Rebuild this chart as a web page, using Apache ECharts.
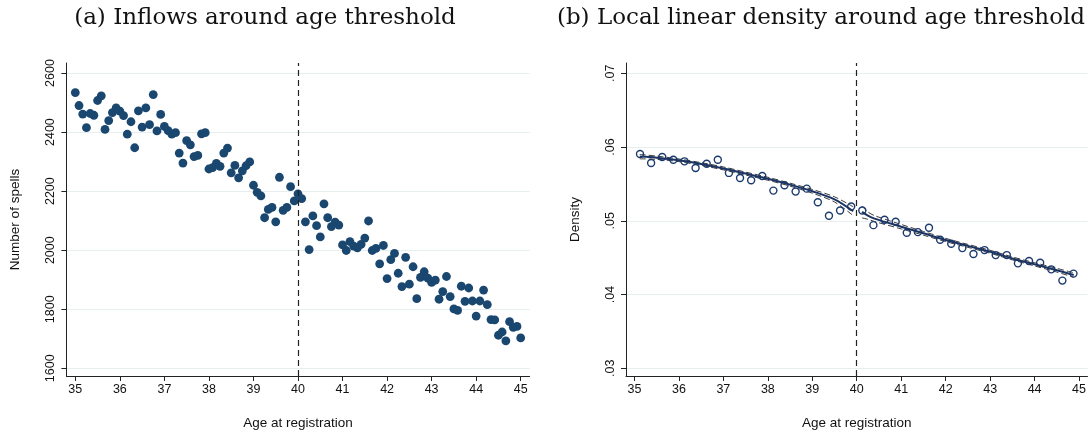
<!DOCTYPE html>
<html>
<head>
<meta charset="utf-8">
<title>Inflows and density around age threshold</title>
<script src="https://cdn.jsdelivr.net/npm/echarts@6/dist/echarts.min.js"></script>
<style>
  html, body { margin: 0; padding: 0; background: #ffffff; }
  #chart { width: 1089px; height: 435px; }
</style>
</head>
<body>
<div id="chart"></div>
<script>
// ---- Panel (a): monthly inflow counts, ages 35 to 45 ----
const inflowStartAge = 35;       // first monthly bin
const inflowBinWidth = 1 / 12;   // one month
const inflowSpells = [
  2534, 2490, 2461, 2415, 2463, 2457, 2507, 2523, 2409, 2439, 2466, 2482,
  2471, 2456, 2393, 2435, 2347, 2472, 2417, 2482, 2425, 2527, 2404, 2460,
  2419, 2405, 2393, 2398, 2329, 2295, 2371, 2357, 2317, 2321, 2394, 2398,
  2275, 2280, 2294, 2284, 2329, 2346, 2262, 2287, 2245, 2269, 2286, 2299,
  2220, 2196, 2184, 2110, 2138, 2145, 2096, 2247, 2135, 2145, 2215, 2167,
  2191, 2175, 2096, 2002, 2116, 2083, 2045, 2157, 2110, 2080, 2095, 2085,
  2018, 1999, 2029, 2014, 2008, 2020, 2041, 2099, 1999, 2006, 1954, 2016,
  1904, 1968, 1989, 1922, 1877, 1976, 1885, 1944, 1836, 1908, 1927, 1905,
  1891, 1899, 1834, 1860, 1911, 1843, 1801, 1796, 1878, 1827, 1872, 1828,
  1777, 1828, 1865, 1816, 1765, 1764, 1712, 1723, 1693, 1758, 1739, 1742,
  1703
];
const spellTicks = [1600, 1800, 2000, 2200, 2400, 2600];

// ---- Panel (b): binned density, quarter-year bins ----
const densityStartAge = 35.125;  // centre of first bin
const densityBinWidth = 0.25;
const densityValues = [
  0.05905, 0.05784, 0.05865, 0.05828, 0.05806, 0.05716, 0.05774, 0.05828,
  0.05649, 0.05581, 0.05549, 0.05608, 0.05409, 0.05481, 0.05396, 0.05436,
  0.05251, 0.05068, 0.05139, 0.05193,
  0.05139, 0.04941, 0.05014, 0.04986, 0.04838, 0.04846, 0.04905, 0.04743,
  0.04689, 0.04630, 0.04549, 0.04603, 0.04535, 0.04535, 0.04423, 0.04454,
  0.04432, 0.04342, 0.04189, 0.04284
];
const densityTicks = [0.03, 0.04, 0.05, 0.06, 0.07];
const densityTickLabels = ['.03', '.04', '.05', '.06', '.07'];

// local linear fit below the threshold, with its confidence band half-width
const fitLeftAge  = [35.12, 35.5, 36, 36.5, 37, 37.5, 38, 38.5, 39, 39.5, 39.92];
const fitLeftVal  = [0.0587, 0.05855, 0.0582, 0.0577, 0.0571, 0.0564, 0.0557, 0.0549, 0.0540, 0.0529, 0.0513];
const fitLeftHalf = [0.0003, 0.00022, 0.00018, 0.00018, 0.0002, 0.0002, 0.0002, 0.0002, 0.00025, 0.00035, 0.0006];

// local linear fit above the threshold
const fitRightAge  = [40.12, 40.25, 40.4, 41, 41.5, 42, 42.5, 43, 43.5, 44, 44.5, 44.88];
const fitRightVal  = [0.0512, 0.0507, 0.0503, 0.0492, 0.0483, 0.0474, 0.0466, 0.0458, 0.0449, 0.0441, 0.0433, 0.04265];
const fitRightHalf = [0.0008, 0.0005, 0.0004, 0.0003, 0.00025, 0.00022, 0.0002, 0.0002, 0.0002, 0.00022, 0.00025, 0.0003];

const ageTicks = [35, 36, 37, 38, 39, 40, 41, 42, 43, 44, 45];
const thresholdAge = 40;

// ---- styling ----
const NAVY = '#1a476f';
const RING = '#1a3a6e';
const FIT = '#1a3363';
const BAND = '#3a3a3a';
const GRIDLINE = '#e6eef0';
const AXIS = '#222222';
const SANS = '"Liberation Sans", Arial, sans-serif';
const SERIF = '"DejaVu Serif", serif';

const inflowPoints = inflowSpells.map((v, i) => [inflowStartAge + i * inflowBinWidth, v]);
const densityPoints = densityValues.map((v, i) => [densityStartAge + i * densityBinWidth, v]);
const pairs = (xs, ys) => xs.map((x, i) => [x, ys[i]]);
const shifted = (xs, ys, hs, s) => xs.map((x, i) => [x, ys[i] + s * hs[i]]);

function xAxisFor(gridIndex, min, max) {
  return {
    type: 'value', gridIndex, min, max,
    name: 'Age at registration', nameLocation: 'middle', nameGap: 40,
    nameTextStyle: { fontFamily: SANS, fontSize: 13.5, color: '#111' },
    axisLine: { show: true, onZero: false, lineStyle: { color: AXIS, width: 1 } },
    axisTick: { show: true, length: 5, customValues: ageTicks, lineStyle: { color: AXIS } },
    axisLabel: { customValues: ageTicks, fontFamily: SANS, fontSize: 12.5, color: '#111', margin: 7 },
    splitLine: { show: false }
  };
}

function yAxisFor(gridIndex, min, max, name, ticks, fmt, nameGap) {
  return {
    type: 'value', gridIndex, min, max,
    name, nameLocation: 'middle', nameRotate: 90, nameGap,
    nameTextStyle: { fontFamily: SANS, fontSize: 13.5, color: '#111' },
    axisLine: { show: true, onZero: false, lineStyle: { color: AXIS, width: 1 } },
    axisTick: { show: true, length: 5, customValues: ticks, lineStyle: { color: AXIS } },
    axisLabel: {
      customValues: ticks, rotate: 90, fontFamily: SANS, fontSize: 12.5, color: '#111',
      margin: 9, formatter: fmt
    },
    splitLine: { show: true, lineStyle: { color: GRIDLINE, width: 1 } }
  };
}

const thresholdLine = {
  silent: true, symbol: ['none', 'none'], animation: false,
  label: { show: false },
  lineStyle: { color: '#222', type: [6, 4], width: 1.2 },
  data: [{ xAxis: thresholdAge }]
};

function bandLine(data) {
  return {
    type: 'line', xAxisIndex: 1, yAxisIndex: 1, data, smooth: 0.3,
    showSymbol: false, silent: true, z: 3,
    lineStyle: { color: BAND, width: 1, type: [6, 3] }
  };
}

const chart = echarts.init(document.getElementById('chart'), null, { renderer: 'canvas' });
chart.setOption({
  animation: false,
  backgroundColor: '#ffffff',
  graphic: [
    { type: 'text', x: 265, y: 18, style: { text: '(a) Inflows around age threshold', font: '23px ' + SERIF, fill: '#111', align: 'center', verticalAlign: 'middle' } },
    { type: 'text', x: 821, y: 18, style: { text: '(b) Local linear density around age threshold', font: '23px ' + SERIF, fill: '#111', align: 'center', verticalAlign: 'middle' } }
  ],
  grid: [
    { left: 66.4, top: 63, width: 463.2, height: 313.7 },
    { left: 626, top: 63, width: 462.6, height: 314 }
  ],
  xAxis: [xAxisFor(0, 34.8, 45.2), xAxisFor(1, 34.81, 45.19)],
  yAxis: [
    yAxisFor(0, 1574, 2634, 'Number of spells', spellTicks, v => String(v), 44),
    yAxisFor(1, 0.02896, 0.07139, 'Density', densityTicks,
      v => densityTickLabels[densityTicks.findIndex(t => Math.abs(t - v) < 1e-9)] || '', 44)
  ],
  series: [
    {
      type: 'scatter', xAxisIndex: 0, yAxisIndex: 0, data: inflowPoints,
      symbol: 'circle', symbolSize: 8.8,
      itemStyle: { color: NAVY, opacity: 1 },
      markLine: thresholdLine
    },
    {
      type: 'scatter', xAxisIndex: 1, yAxisIndex: 1, data: densityPoints,
      symbol: 'circle', symbolSize: 7, z: 4,
      itemStyle: { color: 'rgba(255,255,255,0)', borderColor: RING, borderWidth: 1.4, opacity: 1 },
      markLine: thresholdLine
    },
    bandLine(shifted(fitLeftAge, fitLeftVal, fitLeftHalf, 1)),
    bandLine(shifted(fitLeftAge, fitLeftVal, fitLeftHalf, -1)),
    bandLine(shifted(fitRightAge, fitRightVal, fitRightHalf, 1)),
    bandLine(shifted(fitRightAge, fitRightVal, fitRightHalf, -1)),
    {
      type: 'line', xAxisIndex: 1, yAxisIndex: 1, data: pairs(fitLeftAge, fitLeftVal),
      smooth: 0.3, showSymbol: false, silent: true, z: 5,
      lineStyle: { color: FIT, width: 2 }
    },
    {
      type: 'line', xAxisIndex: 1, yAxisIndex: 1, data: pairs(fitRightAge, fitRightVal),
      smooth: 0.3, showSymbol: false, silent: true, z: 5,
      lineStyle: { color: FIT, width: 2 }
    }
  ]
});
</script>
</body>
</html>
